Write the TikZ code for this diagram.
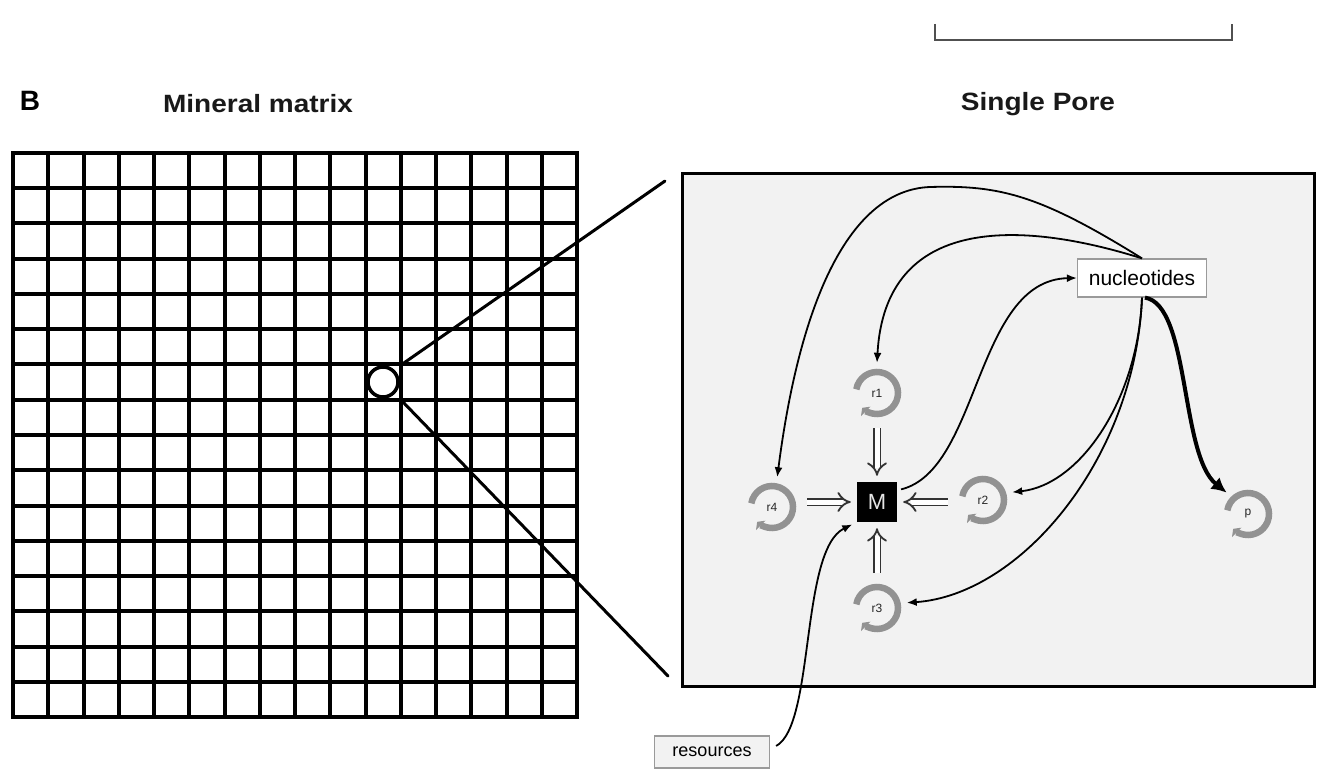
\documentclass[tikz,border=0pt]{standalone}
\usepackage{fontspec}
\setmainfont{Liberation Sans}
\usetikzlibrary{arrows.meta}
\definecolor{porefill}{HTML}{F2F2F2}
\definecolor{ringgray}{HTML}{929292}
\definecolor{boxgray}{HTML}{9A9A9A}
\definecolor{scalegray}{HTML}{505050}
\begin{document}
\begin{tikzpicture}[x=1pt,y=-1pt,
  titlestyle/.style={font=\bfseries\fontsize{25}{28}\selectfont, xscale=1.12, inner sep=0pt, text=black!90},
  gridline/.style={line width=4pt, black},
  zoomline/.style={line width=3pt, black, line cap=round},
  labelbox/.style={draw=boxgray, line width=1.2pt, inner sep=0pt},
  ringnode/.style={circle, minimum size=60pt, inner sep=0pt, text=black!85, font=\fontsize{12}{13}\selectfont},
  ringarc/.style={ringgray, line width=6.5pt, -{Triangle[length=5pt,width=13pt]}},
  conn/.style={line width=1.8pt, black, -{Latex[length=10pt,width=8pt]}},
  thickconn/.style={line width=4pt, black, -{Latex[length=15pt,width=15pt]}},
  hollow/.style={draw=black!80, line width=1.8pt, double=white, double distance=5pt, -{Implies}, shorten <=5pt, shorten >=6pt}
]
\useasboundingbox (0,0) rectangle (1323,783);
\fill[white] (0,0) rectangle (1323,783);

% scale bar
\draw[line width=2.5pt, scalegray] (935,24) -- (935,40) -- (1232,40) -- (1232,24);

% titles
\node[font=\bfseries\fontsize{28}{30}\selectfont, inner sep=0pt] (lblB) at (30,101) {B};
\node[titlestyle] (tMin) at (258,104) {Mineral matrix};
\node[titlestyle] (tPore) at (1038,104) {Single Pore};

% mineral matrix grid
\foreach \i in {0,...,16} {
  \draw[gridline] ({13+35.25*\i},153) -- ({13+35.25*\i},717);
  \draw[gridline] (13,{153+35.25*\i}) -- (577,{153+35.25*\i});
}
\draw[gridline, line width=4.5pt] (13,153) rectangle (577,717);
\node[circle, draw, fill=white, line width=3.5pt, minimum size=30pt, inner sep=0pt] (pore) at (383,382) {};

% zoom lines
\coordinate (zA) at (401,365);
\coordinate (zA2) at (665,181);
\coordinate (zB) at (401,400);
\coordinate (zB2) at (668,676);
\draw[zoomline] (zA) -- (zA2);
\draw[zoomline] (zB) -- (zB2);

% single pore box
\node[draw, line width=3pt, fill=porefill, minimum width=632pt, minimum height=512pt, inner sep=0pt] (box) at (998,430) {};

% nodes
\node[labelbox, fill=white, minimum width=129pt, minimum height=38pt, font=\fontsize{21}{23}\selectfont] (nuc) at (1142,278) {nucleotides};
\node[labelbox, fill=porefill, minimum width=115pt, minimum height=32pt, font=\fontsize{18}{20}\selectfont] (res) at (712,752) {resources};
\node[fill=black, minimum size=40pt, inner sep=0pt, text=white!90!black, font=\fontsize{22}{24}\selectfont] (M) at (877,502) {M};
\node[ringnode] (r1) at (877,393) {r1};
\node[ringnode] (r2) at (983,500) {r2};
\node[ringnode] (r3) at (877,608) {r3};
\node[ringnode] (r4) at (772,507) {r4};
\node[ringnode] (p) at (1248,514) {p};
\foreach \n in {r1,r2,r3,r4,p} {
  \draw[ringarc] (\n.center) ++(190:21) arc[start angle=190, end angle=495, radius=21];
}

% hollow arrows to M
\draw[hollow] (r1) -- (M);
\draw[hollow] (r4.east |- M) -- (M);
\draw[hollow] (r2.west |- M) -- (M);
\draw[hollow] (r3) -- (M);

% connectors
\draw[conn] (nuc.north) .. controls (1040,195) and (1000,185) .. (930,187)
  .. controls (850,190) and (800,300) .. (r4.80);
\draw[conn] (nuc.north) .. controls (1020,220) and (885,215) .. (r1.north);
\draw[conn, shorten <=4pt] (M.30) .. controls (980,470) and (975,280) .. (nuc.west);
\draw[conn] (nuc.south) .. controls (1138,400) and (1080,485) .. (r2.15);
\draw[conn] (nuc.south) .. controls (1135,460) and (1020,595) .. (r3.10);
\draw[thickconn] ([xshift=3pt]nuc.south) .. controls (1190,305) and (1180,455) .. (p.135);
\draw[conn, shorten >=5pt] ([xshift=6pt,yshift=6pt]res.east) .. controls (815,725) and (800,550) .. (M.south west);
\end{tikzpicture}
\end{document}
